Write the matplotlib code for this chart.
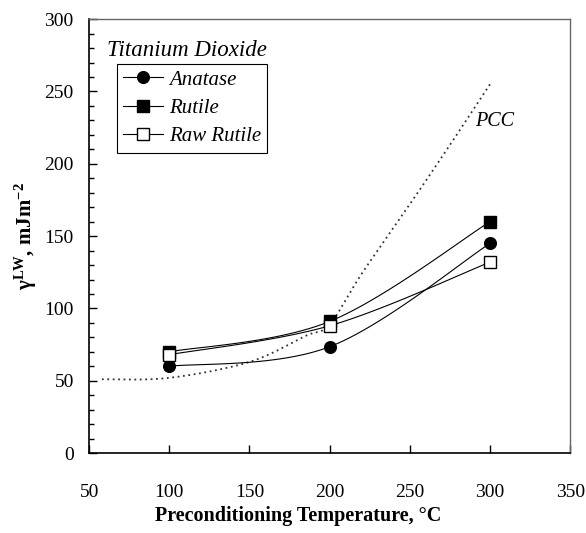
import numpy as np
import matplotlib
matplotlib.use('Agg')
import matplotlib.pyplot as plt
from matplotlib.ticker import MultipleLocator

plt.rcParams.update({
    'font.family': ['Liberation Serif', 'DejaVu Serif'],
    'mathtext.fontset': 'custom',
    'mathtext.rm': 'Liberation Serif',
    'mathtext.bf': 'Liberation Serif:bold',
    'mathtext.default': 'bf',
})

# data
temp = [100, 200, 300]
anatase = [60, 73.5, 145]
rutile = [70, 91, 160]
raw_rutile = [68, 88, 132]

pcc_temp = [58, 100, 150, 185, 200, 220, 250, 275, 300]
pcc_val = [51, 52, 63, 81, 89, 124, 172, 213, 255]


# Excel-like smoothed line through the points
def smooth(x, y, n=40):
    p = np.column_stack([x, y]).astype(float)
    pts = np.vstack([p[0], p, p[-1]])
    out = []
    for i in range(1, len(pts) - 2):
        p0, p1, p2, p3 = pts[i - 1], pts[i], pts[i + 1], pts[i + 2]
        c1 = p1 + (p2 - p0) / 6
        c2 = p2 - (p3 - p1) / 6
        t = np.linspace(0, 1, n)[:, None]
        seg = ((1 - t) ** 3 * p1 + 3 * (1 - t) ** 2 * t * c1
               + 3 * (1 - t) * t ** 2 * c2 + t ** 3 * p2)
        out.append(seg if i == 1 else seg[1:])
    out = np.vstack(out)
    return out[:, 0], out[:, 1]


fig = plt.figure(figsize=(5.86, 5.33), dpi=100)
ax = fig.add_axes([0.152, 0.150, 0.821, 0.814])

sx, sy = smooth(pcc_temp, pcc_val)
ax.plot(sx, sy, color='#333333', lw=1.3, ls=(0, (1, 2)))

series = [
    ('Anatase', anatase, dict(marker='o', mfc='black', ms=8.4)),
    ('Rutile', rutile, dict(marker='s', mfc='black', ms=8.2)),
    ('Raw Rutile', raw_rutile, dict(marker='s', mfc='white', ms=8.4)),
]
handles = []
for name, vals, mk in series:
    sx, sy = smooth(temp, vals)
    ax.plot(sx, sy, color='black', lw=0.8)
    ax.plot(temp, vals, ls='none', mec='black', mew=1.0, zorder=3, **mk)
    h, = ax.plot([], [], color='black', lw=0.8, mec='black', mew=1.0, **mk)
    handles.append(h)

ax.set_xlim(50, 350)
ax.set_ylim(0, 300)
ax.xaxis.set_major_locator(MultipleLocator(50))
ax.yaxis.set_major_locator(MultipleLocator(50))
ax.yaxis.set_minor_locator(MultipleLocator(10))
ax.tick_params(axis='x', direction='in', length=6, width=1, pad=22, labelsize=14)
ax.tick_params(axis='y', which='major', direction='in', length=6, width=1, pad=11, labelsize=14)
ax.tick_params(axis='y', which='minor', direction='in', length=3.5, width=1)

for s in ['left', 'bottom']:
    ax.spines[s].set_linewidth(1.2)
for s in ['top', 'right']:
    ax.spines[s].set_color('#666666')
    ax.spines[s].set_linewidth(1.0)

fig.text(298 / 586, 1 - 521 / 533, 'Preconditioning Temperature, °C', fontsize=14.5,
         fontweight='bold', ha='center', va='baseline')
ax.set_ylabel('γ$^{LW}$, mJm$^{-2}$', fontsize=15, fontweight='bold', labelpad=4)

ax.text(0.037, 0.928, 'Titanium Dioxide', transform=ax.transAxes, fontsize=16.5,
        style='italic', va='center')
ax.text(291, 229, 'PCC', fontsize=14.5, style='italic', va='center')

leg = ax.legend(handles, [s[0] for s in series], loc='upper left',
                bbox_to_anchor=(0.058, 0.897), frameon=True, fancybox=False,
                edgecolor='black', framealpha=1, borderpad=0.3,
                handlelength=1.9, handletextpad=0.3, labelspacing=0.42,
                borderaxespad=0, prop={'style': 'italic', 'size': 15})
leg.get_frame().set_linewidth(0.8)

fig.savefig('out.png', dpi=100)
